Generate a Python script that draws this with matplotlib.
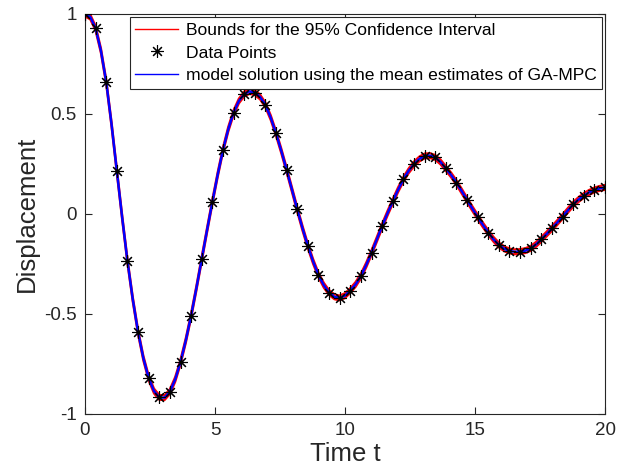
import numpy as np
import matplotlib
matplotlib.use("Agg")
import matplotlib.pyplot as plt

plt.rcParams['font.family'] = ['Liberation Sans', 'DejaVu Sans']
plt.rcParams['axes.unicode_minus'] = False

# Data points (sampled on 50 equally spaced times 0..20)
t_data = np.linspace(0, 20, 50)
y_data = [1.0, 0.928, 0.66, 0.215, -0.235, -0.59, -0.82, -0.917, -0.888, -0.74,
          -0.508, -0.225, 0.06, 0.32, 0.507, 0.60, 0.607, 0.545, 0.403, 0.22,
          0.023, -0.16, -0.305, -0.393, -0.42, -0.383, -0.31, -0.193, -0.06, 0.063,
          0.173, 0.25, 0.29, 0.283, 0.228, 0.157, 0.07, -0.015, -0.093, -0.155,
          -0.185, -0.188, -0.172, -0.127, -0.072, -0.013, 0.048, 0.092, 0.12, 0.133]

# Model solution (mean estimates) on a finer time grid
y_model = [1.0, 0.985, 0.928, 0.817, 0.66, 0.449, 0.215, -0.016, -0.235, -0.426,
           -0.59, -0.721, -0.82, -0.885, -0.917, -0.918, -0.888, -0.827, -0.74, -0.632,
           -0.508, -0.370, -0.225, -0.081, 0.06, 0.196, 0.32, 0.424, 0.507, 0.565,
           0.60, 0.613, 0.607, 0.585, 0.545, 0.482, 0.403, 0.315, 0.22, 0.122,
           0.023, -0.072, -0.16, -0.238, -0.305, -0.356, -0.393, -0.414, -0.42, -0.408,
           -0.383, -0.352, -0.31, -0.255, -0.193, -0.127, -0.06, 0.003, 0.063, 0.121,
           0.173, 0.216, 0.25, 0.275, 0.29, 0.292, 0.283, 0.260, 0.228, 0.195,
           0.157, 0.114, 0.07, 0.027, -0.015, -0.055, -0.093, -0.127, -0.155, -0.174,
           -0.185, -0.189, -0.188, -0.183, -0.172, -0.152, -0.127, -0.100, -0.072, -0.043,
           -0.013, 0.018, 0.048, 0.072, 0.092, 0.108, 0.12, 0.128, 0.133]

# 95% confidence interval bounds
y_upper = [1.012, 0.997, 0.940, 0.829, 0.672, 0.461, 0.227, -0.004, -0.223, -0.414,
           -0.578, -0.709, -0.808, -0.873, -0.905, -0.906, -0.876, -0.815, -0.728, -0.620,
           -0.496, -0.358, -0.213, -0.069, 0.072, 0.208, 0.332, 0.436, 0.519, 0.577,
           0.612, 0.625, 0.619, 0.597, 0.557, 0.494, 0.415, 0.327, 0.232, 0.134,
           0.035, -0.060, -0.148, -0.226, -0.293, -0.344, -0.381, -0.402, -0.408, -0.396,
           -0.371, -0.340, -0.298, -0.243, -0.181, -0.115, -0.048, 0.015, 0.075, 0.133,
           0.185, 0.228, 0.262, 0.287, 0.302, 0.304, 0.295, 0.272, 0.240, 0.207,
           0.169, 0.126, 0.082, 0.039, -0.003, -0.043, -0.081, -0.115, -0.143, -0.162,
           -0.173, -0.177, -0.176, -0.171, -0.160, -0.140, -0.115, -0.088, -0.060, -0.031,
           -0.001, 0.030, 0.060, 0.084, 0.104, 0.120, 0.132, 0.140, 0.145]
y_lower = [0.988, 0.973, 0.916, 0.805, 0.648, 0.437, 0.203, -0.028, -0.247, -0.438,
           -0.602, -0.733, -0.832, -0.897, -0.929, -0.930, -0.900, -0.839, -0.752, -0.644,
           -0.520, -0.382, -0.237, -0.093, 0.048, 0.184, 0.308, 0.412, 0.495, 0.553,
           0.588, 0.601, 0.595, 0.573, 0.533, 0.470, 0.391, 0.303, 0.208, 0.110,
           0.011, -0.084, -0.172, -0.250, -0.317, -0.368, -0.405, -0.426, -0.432, -0.420,
           -0.395, -0.364, -0.322, -0.267, -0.205, -0.139, -0.072, -0.009, 0.051, 0.109,
           0.161, 0.204, 0.238, 0.263, 0.278, 0.280, 0.271, 0.248, 0.216, 0.183,
           0.145, 0.102, 0.058, 0.015, -0.027, -0.067, -0.105, -0.139, -0.167, -0.186,
           -0.197, -0.201, -0.200, -0.195, -0.184, -0.164, -0.139, -0.112, -0.084, -0.055,
           -0.025, 0.006, 0.036, 0.060, 0.080, 0.096, 0.108, 0.116, 0.121]

t_model = np.linspace(0, 20, len(y_model))

x_ticks = [0, 5, 10, 15, 20]
y_ticks = [-1, -0.5, 0, 0.5, 1]
y_ticklabels = ['-1', '-0.5', '0', '0.5', '1']

label_bounds = 'Bounds for the 95% Confidence Interval'
label_data = 'Data Points'
label_model = 'model solution using the mean estimates of GA-MPC'

dark = (0.15, 0.15, 0.15)

fig = plt.figure(figsize=(6.3, 4.75), dpi=100)
ax = fig.add_axes([85/630, 1-414/475, 520/630, 400/475])

l1, = ax.plot(t_model, y_upper, color='red', lw=1.6, zorder=2, label=label_bounds)
ax.plot(t_model, y_lower, color='red', lw=1.6, zorder=2)
l2, = ax.plot(t_data, y_data, linestyle='none', marker=(8, 2, 0), markersize=9,
              markeredgewidth=0.8, color='black', zorder=4, label=label_data)
l3, = ax.plot(t_model, y_model, color='blue', lw=1.8, zorder=3, label=label_model)

ax.set_xlim(0, 20)
ax.set_ylim(-1, 1)
ax.set_xticks(x_ticks)
ax.set_xticklabels([str(v) for v in x_ticks])
ax.set_yticks(y_ticks)
ax.set_yticklabels(y_ticklabels)
ax.tick_params(direction='in', length=5, width=0.8, top=True, right=True,
               labelsize=13.5, colors=dark, pad=6)
for s in ax.spines.values():
    s.set_color(dark)
    s.set_linewidth(0.8)

ax.set_xlabel('Time t', fontsize=18.5, color=dark, labelpad=2)
ax.set_ylabel('Displacement', fontsize=18.5, color=dark, labelpad=4)

leg = ax.legend(handles=[l1, l2, l3], loc='upper right',
                bbox_to_anchor=((602.3-85)/520, (414-17.3)/400),
                borderaxespad=0, fancybox=False, fontsize=12.6,
                handlelength=2.45, handletextpad=0.46, labelspacing=0.43,
                borderpad=0.3, framealpha=1)
leg.get_frame().set_edgecolor(dark)
leg.get_frame().set_linewidth(0.8)
for h in leg.legend_handles:
    if h.get_linestyle() not in ('None', 'none'):
        h.set_linewidth(1.0)

fig.savefig('out.png', dpi=100)
